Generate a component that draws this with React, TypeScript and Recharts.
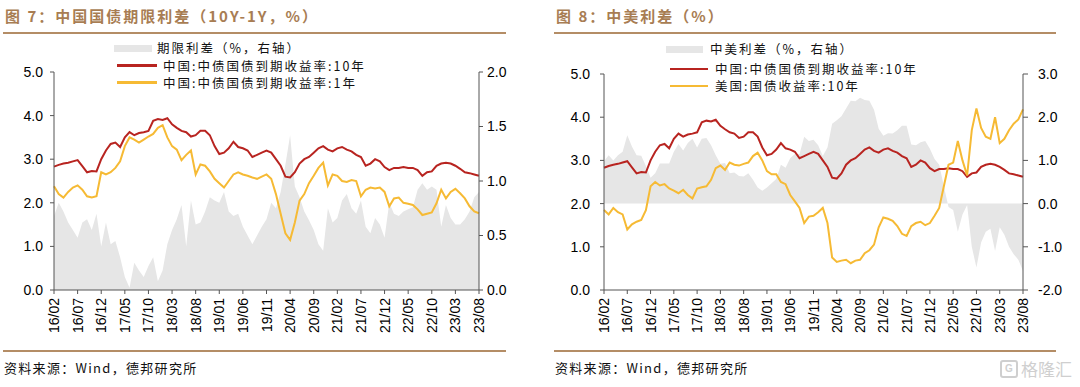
import React from "react";
import { Area, ComposedChart, Line, XAxis, YAxis } from "recharts";

// month categories 16/02 .. 23/08 (91 months), a tick every 5 months
const months = Array.from({ length: 91 }, (_, i) => {
  const m = 1 + i;
  const yy = 16 + Math.floor(m / 12);
  const mm = (m % 12) + 1;
  return `${yy}/${String(mm).padStart(2, "0")}`;
});

// 中国:中债国债到期收益率:10年
const cn10y = [
  2.83, 2.87, 2.9, 2.92, 2.95, 2.98, 2.84, 2.7, 2.73, 2.72, 3.0, 3.2, 3.35, 3.38, 3.28, 3.5,
  3.62, 3.55, 3.6, 3.62, 3.65, 3.88, 3.92, 3.9, 3.94, 3.8, 3.72, 3.65, 3.62, 3.52, 3.55, 3.65,
  3.65, 3.55, 3.3, 3.12, 3.15, 3.25, 3.4, 3.28, 3.25, 3.2, 3.05, 3.1, 3.15, 3.2, 3.15, 3.0,
  2.85, 2.6, 2.58, 2.7, 2.9, 3.0, 3.05, 3.15, 3.25, 3.3, 3.22, 3.18, 3.25, 3.28, 3.22, 3.18,
  3.1, 3.05, 2.85, 2.9, 3.0, 2.95, 2.82, 2.75, 2.8, 2.8, 2.82, 2.8, 2.8, 2.75, 2.62, 2.7,
  2.72, 2.85, 2.9, 2.92, 2.9, 2.85, 2.78, 2.7, 2.68, 2.65, 2.62,
];

// 中国:中债国债到期收益率:1年
const cn1y = [
  2.38, 2.2, 2.12, 2.25, 2.35, 2.4, 2.3, 2.15, 2.12, 2.15, 2.7, 2.65, 2.7, 2.8, 2.95, 3.3,
  3.5, 3.45, 3.38, 3.45, 3.52, 3.58, 3.72, 3.78, 3.5, 3.3, 3.22, 2.98, 3.1, 3.2, 2.65, 2.88,
  2.85, 2.72, 2.55, 2.45, 2.35, 2.5, 2.65, 2.7, 2.65, 2.62, 2.58, 2.55, 2.6, 2.65, 2.55, 2.2,
  1.75, 1.3, 1.15, 1.55, 2.05, 2.2, 2.45, 2.62, 2.8, 2.92, 2.4, 2.65, 2.62, 2.5, 2.48, 2.52,
  2.5, 2.15, 2.3, 2.35, 2.33, 2.35, 2.25, 1.92, 2.1, 2.12, 2.0, 1.98, 1.95, 1.85, 1.72, 1.75,
  1.78, 1.99, 2.3, 2.1, 2.25, 2.32, 2.22, 2.1, 1.92, 1.8, 1.76,
];

// 期限利差（%，右轴）
const termSpread = [
  0.68, 0.8, 0.72, 0.62, 0.55, 0.48, 0.62, 0.65, 0.55, 0.7, 0.4, 0.62, 0.42, 0.45, 0.3, 0.12,
  0.02, 0.25, 0.18, 0.12, 0.22, 0.3, 0.08, 0.18, 0.42, 0.55, 0.65, 0.78, 0.4, 0.82, 0.6, 0.62,
  0.72, 0.85, 0.82, 0.8, 0.9, 0.72, 0.68, 0.7, 0.58, 0.5, 0.42, 0.5, 0.58, 0.65, 0.8, 0.75,
  0.9, 1.15, 1.42, 0.95, 0.85, 0.72, 0.64, 0.55, 0.42, 0.36, 0.75, 0.62, 0.66, 0.82, 0.88, 0.75,
  0.7, 0.82, 0.58, 0.52, 0.66, 0.6, 0.48, 0.8, 0.7, 0.68, 0.72, 0.74, 0.76, 0.92, 0.98, 0.92,
  0.95, 0.92, 0.58, 0.78, 0.66, 0.6, 0.6, 0.65, 0.72, 0.85, 0.9,
];

// 美国:国债收益率:10年
const us10y = [
  1.85, 1.75, 1.9, 1.8, 1.75, 1.4, 1.52, 1.58, 1.62, 1.85, 2.4, 2.5, 2.42, 2.45, 2.35, 2.3,
  2.24, 2.32, 2.2, 2.12, 2.35, 2.38, 2.4, 2.55, 2.82, 2.88, 2.78, 2.95, 2.9, 2.88, 2.92, 2.95,
  3.1, 3.18, 3.0, 2.75, 2.68, 2.68, 2.5, 2.45, 2.2, 2.05, 1.9, 1.55, 1.7, 1.72, 1.8, 1.9,
  1.55, 0.75, 0.65, 0.68, 0.7, 0.62, 0.68, 0.7, 0.85, 0.92, 1.05, 1.45, 1.68, 1.65, 1.6, 1.48,
  1.3, 1.25, 1.48, 1.55, 1.58, 1.5, 1.55, 1.72, 1.9, 2.4, 2.9, 2.95, 3.45, 3.0, 2.65, 3.7,
  4.2, 3.75, 3.55, 3.5, 4.0, 3.4, 3.5, 3.7, 3.85, 3.95, 4.18,
];

// 中美利差（%，右轴）
const cnUsSpread = [
  0.98, 1.12, 1.0, 1.12, 1.2, 1.58, 1.32, 1.12, 1.11, 0.87, 0.6, 0.7, 0.93, 0.93, 0.93, 1.2,
  1.38, 1.23, 1.4, 1.5, 1.3, 1.5, 1.52, 1.35, 1.12, 0.92, 0.94, 0.7, 0.72, 0.64, 0.63, 0.7,
  0.55, 0.37, 0.3, 0.37, 0.47, 0.57, 0.9, 0.83, 1.05, 1.15, 1.15, 1.55, 1.45, 1.48, 1.35, 1.1,
  1.3, 1.85, 1.93, 2.02, 2.2, 2.38, 2.37, 2.45, 2.4, 2.38, 2.17, 1.73, 1.57, 1.63, 1.62, 1.7,
  1.8, 1.8, 1.37, 1.35, 1.42, 1.45, 1.27, 1.03, 0.9, 0.4, -0.08, -0.15, -0.65, -0.25, -0.03, -1.0,
  -1.48, -0.9, -0.65, -0.58, -1.1, -0.55, -0.72, -1.0, -1.17, -1.3, -1.56,
];

const leftTicks = [0, 1, 2, 3, 4, 5];
const termRightTicks = [0, 0.5, 1, 1.5, 2];
const spreadRightTicks = [-2, -1, 0, 1, 2, 3];

const termData = months.map((label, i) => ({
  label,
  cn10y: cn10y[i],
  cn1y: cn1y[i],
  spread: termSpread[i],
}));

const usData = months.map((label, i) => ({
  label,
  cn10y: cn10y[i],
  us10y: us10y[i],
  spread: cnUsSpread[i],
}));

const RED = "#B82420";
const GOLD = "#F6BA34";
const GREY = "#E6E6E6";
const BROWN = "#A87D53";
const AXIS = "#555";
const numFont = "'Liberation Sans', Arial, sans-serif";
const cjkFont = "'Noto Sans CJK SC', 'Noto Sans', sans-serif";

const numTick = { fontSize: 14, fill: "#000", fontFamily: numFont };

function MonthTick(props: any) {
  const { x, y, payload } = props;
  return (
    <g transform={`translate(${x},${y})`}>
      <text
        transform="rotate(-90)"
        textAnchor="end"
        dy="0.36em"
        fontSize={14}
        fill="#000"
        fontFamily={numFont}
      >
        {payload.value}
      </text>
    </g>
  );
}

const fmt = (v: number) => v.toFixed(1);

function LegendRow({
  left,
  top,
  swatch,
  gap,
  text,
}: {
  left: number;
  top: number;
  swatch: React.ReactNode;
  gap: number;
  text: string;
}) {
  return (
    <div
      style={{
        position: "absolute",
        left,
        top: top - 7,
        height: 14,
        display: "flex",
        alignItems: "center",
        whiteSpace: "nowrap",
      }}
    >
      {swatch}
      <span
        style={{
          marginLeft: gap,
          fontFamily: cjkFont,
          fontSize: 12.5,
          lineHeight: "14px",
          letterSpacing: 2,
          color: "#111",
        }}
      >
        {text}
      </span>
    </div>
  );
}

const box = (w: number) => <span style={{ display: "block", width: w, height: 7, background: GREY }} />;
const stroke = (w: number, c: string) => (
  <span style={{ display: "block", width: w, height: 2.5, background: c }} />
);

function Frame({ left, width, title }: { left: number; width: number; title: string }) {
  return (
    <>
      <div
        style={{
          position: "absolute",
          left: left + 2,
          top: 7,
          fontFamily: cjkFont,
          fontSize: 15,
          lineHeight: "18px",
          fontWeight: 700,
          letterSpacing: 2,
          color: BROWN,
          whiteSpace: "nowrap",
        }}
      >
        {title}
      </div>
      <div style={{ position: "absolute", left, top: 32, width, height: 2, background: "#B48D66" }} />
      <div style={{ position: "absolute", left, top: 350, width, height: 2, background: "#B48D66" }} />
      <div
        style={{
          position: "absolute",
          left: left + 1,
          top: 360,
          fontFamily: cjkFont,
          fontSize: 13,
          lineHeight: "16px",
          letterSpacing: 1.3,
          color: "#111",
          whiteSpace: "nowrap",
        }}
      >
        资料来源：Wind，德邦研究所
      </div>
    </>
  );
}

function TermSpreadChart() {
  return (
    <ComposedChart width={540} height={350} data={termData} margin={{ top: 72, right: 11, bottom: 10, left: 4 }}>
      <XAxis
        dataKey="label"
        interval={4}
        tick={(p: any) => <MonthTick {...p} />}
        tickSize={4}
        tickMargin={4}
        height={50}
        stroke={AXIS}
      />
      <YAxis
        yAxisId="left"
        domain={[0, 5]}
        ticks={leftTicks}
        tickFormatter={fmt}
        tick={numTick}
        tickSize={4}
        tickMargin={7}
        width={50}
        stroke={AXIS}
      />
      <YAxis
        yAxisId="right"
        orientation="right"
        domain={[0, 2]}
        ticks={termRightTicks}
        tickFormatter={fmt}
        tick={numTick}
        tickSize={4}
        tickMargin={4}
        width={50}
        stroke={AXIS}
      />
      <Area
        yAxisId="right"
        dataKey="spread"
        type="linear"
        stroke="none"
        fill={GREY}
        fillOpacity={1}
        baseValue={0}
        isAnimationActive={false}
      />
      <Line yAxisId="left" dataKey="cn10y" type="linear" stroke={RED} strokeWidth={2} dot={false} isAnimationActive={false} />
      <Line yAxisId="left" dataKey="cn1y" type="linear" stroke={GOLD} strokeWidth={2} dot={false} isAnimationActive={false} />
    </ComposedChart>
  );
}

function CnUsChart() {
  return (
    <ComposedChart width={540} height={350} data={usData} margin={{ top: 74, right: 7, bottom: 10, left: 14 }}>
      <XAxis
        dataKey="label"
        interval={4}
        tick={(p: any) => <MonthTick {...p} />}
        tickSize={4}
        tickMargin={4}
        height={50}
        stroke={AXIS}
      />
      <YAxis
        yAxisId="left"
        domain={[0, 5]}
        ticks={leftTicks}
        tickFormatter={fmt}
        tick={numTick}
        tickSize={4}
        tickMargin={10}
        width={50}
        stroke={AXIS}
      />
      <YAxis
        yAxisId="right"
        orientation="right"
        domain={[-2, 3]}
        ticks={spreadRightTicks}
        tickFormatter={fmt}
        tick={numTick}
        tickSize={5}
        tickMargin={10}
        width={50}
        stroke={AXIS}
      />
      <Area
        yAxisId="right"
        dataKey="spread"
        type="linear"
        stroke="none"
        fill={GREY}
        fillOpacity={1}
        baseValue={0}
        isAnimationActive={false}
      />
      <Line yAxisId="left" dataKey="cn10y" type="linear" stroke={RED} strokeWidth={2} dot={false} isAnimationActive={false} />
      <Line yAxisId="left" dataKey="us10y" type="linear" stroke={GOLD} strokeWidth={2} dot={false} isAnimationActive={false} />
    </ComposedChart>
  );
}

export default function App() {
  return (
    <div style={{ position: "absolute", left: 0, top: 0, width: 1080, height: 387, background: "#fff", overflow: "hidden" }}>
      <Frame left={3} width={503} title="图 7：中国国债期限利差（10Y-1Y，%）" />
      <Frame left={554} width={502} title="图 8：中美利差（%）" />

      <div style={{ position: "absolute", left: 0, top: 0 }}>
        <TermSpreadChart />
      </div>
      <div style={{ position: "absolute", left: 540, top: 0 }}>
        <CnUsChart />
      </div>

      <LegendRow left={114} top={48} swatch={box(38)} gap={5} text="期限利差（%，右轴）" />
      <LegendRow left={117} top={65.5} swatch={stroke(40, RED)} gap={6} text="中国:中债国债到期收益率:10年" />
      <LegendRow left={117} top={82.5} swatch={stroke(40, GOLD)} gap={6} text="中国:中债国债到期收益率:1年" />

      <LegendRow left={666} top={49} swatch={box(37)} gap={7} text="中美利差（%，右轴）" />
      <LegendRow left={670} top={69} swatch={stroke(38, RED)} gap={7} text="中国:中债国债到期收益率:10年" />
      <LegendRow left={670} top={86} swatch={stroke(38, GOLD)} gap={7} text="美国:国债收益率:10年" />

      <div
        style={{
          position: "absolute",
          left: 1000,
          top: 359,
          display: "flex",
          alignItems: "center",
          gap: 3,
          color: "#cfcfcf",
          fontFamily: cjkFont,
          fontSize: 17,
          lineHeight: "20px",
          whiteSpace: "nowrap",
        }}
      >
        <span
          style={{
            display: "inline-block",
            width: 14,
            height: 14,
            border: "2px solid #cfcfcf",
            borderRadius: 3,
            fontSize: 10,
            lineHeight: "14px",
            textAlign: "center",
            fontFamily: numFont,
            fontWeight: 700,
          }}
        >
          G
        </span>
        格隆汇
      </div>
    </div>
  );
}
